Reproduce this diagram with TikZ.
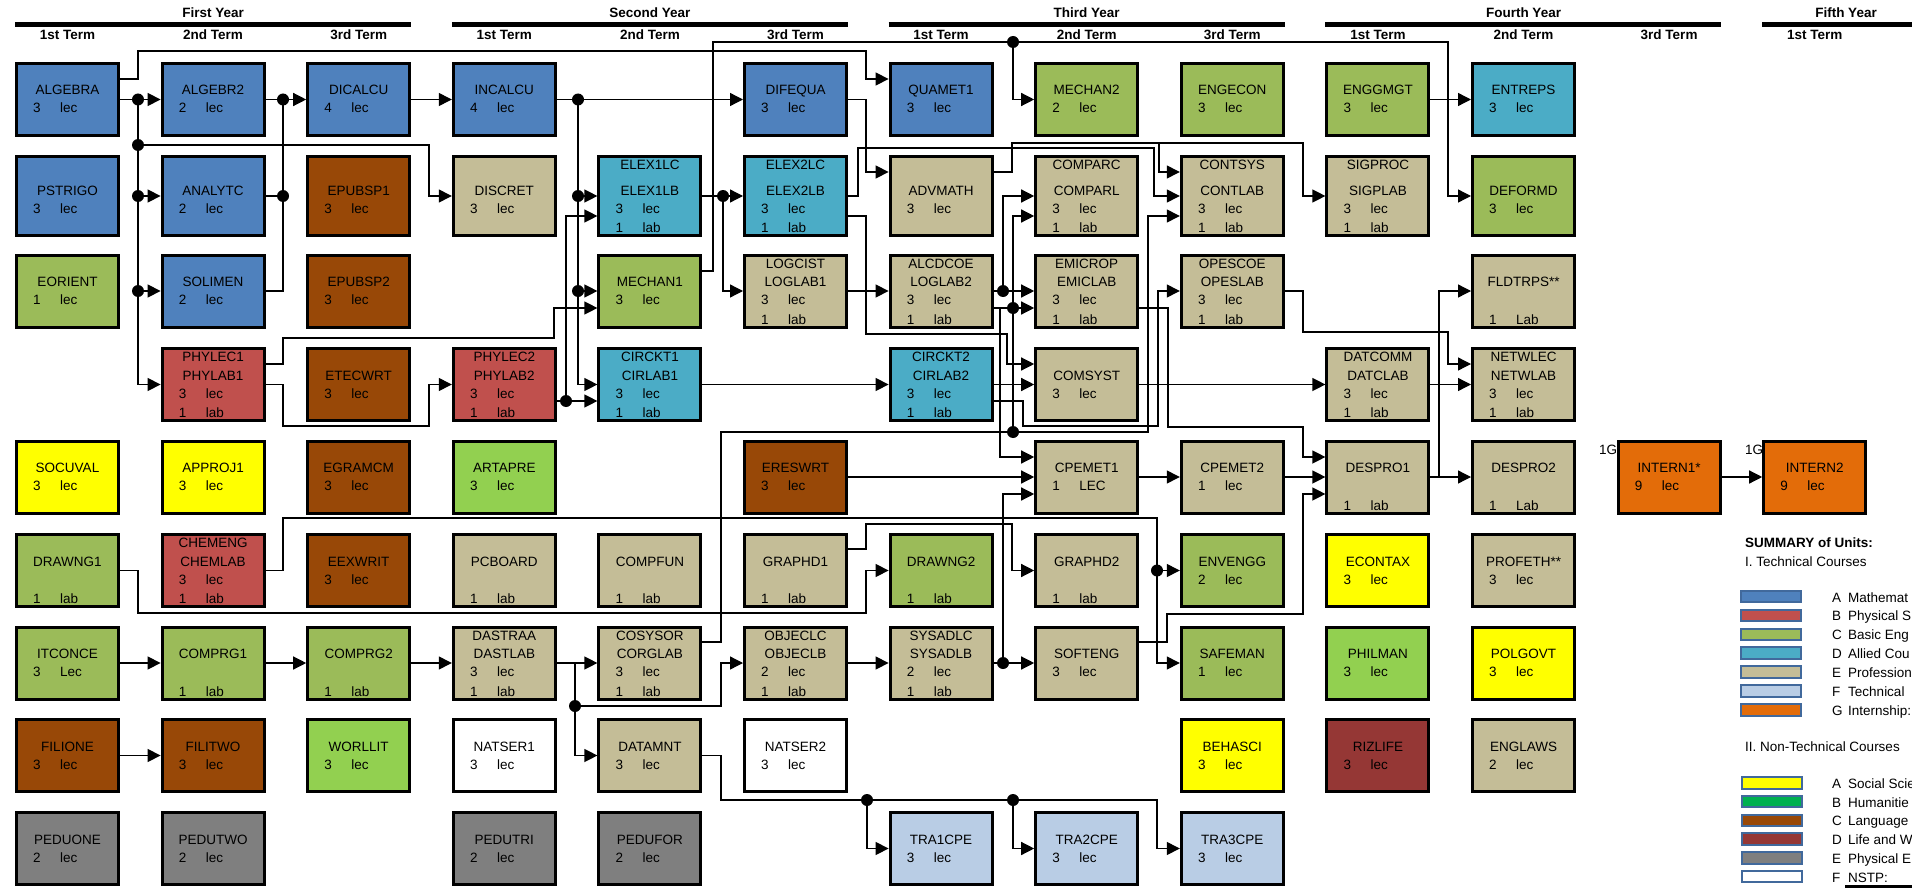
\documentclass[tikz,border=0pt]{standalone}
\usepackage{fontspec}
\setmainfont{Liberation Sans}
\usetikzlibrary{arrows.meta}

\definecolor{cMath}{HTML}{4F81BD}
\definecolor{cPhys}{HTML}{C0504D}
\definecolor{cBasic}{HTML}{9BBB59}
\definecolor{cAllied}{HTML}{4BACC6}
\definecolor{cProf}{HTML}{C4BD97}
\definecolor{cElec}{HTML}{B9CDE5}
\definecolor{cIntern}{HTML}{E36C09}
\definecolor{cSocial}{HTML}{FFFF00}
\definecolor{cHuman}{HTML}{92D050}
\definecolor{cHumanKey}{HTML}{00B050}
\definecolor{cLang}{HTML}{984807}
\definecolor{cLife}{HTML}{953735}
\definecolor{cPE}{HTML}{7F7F7F}
\definecolor{cKeyEdge}{HTML}{41699C}

\newcommand{\crsfont}{\fontsize{13.5}{16}\selectfont}
% course box: style, name, position, top line, title, units (two lines)
\newcommand{\course}[9]{%
  \node[crsbox, #1] (#2) at #3 {};
  \node[crstitle] (#2-t1) at ([yshift=-14.5pt]#2.north) {#4};
  \node[crstitle] (#2-t2) at ([yshift=42pt]#2.south) {#5};
  \node[crsunit] (#2-n3) at ([xshift=18pt,yshift=24pt]#2.south west) {#6};
  \node[crsunit] (#2-u3) at ([xshift=45pt,yshift=24pt]#2.south west) {#7};
  \node[crsunit] (#2-n4) at ([xshift=18pt,yshift=4.5pt]#2.south west) {#8};
  \node[crsunit] (#2-u4) at ([xshift=45pt,yshift=4.5pt]#2.south west) {#9};
}

\begin{document}
\begin{tikzpicture}[x=1pt, y=-1pt]
  % Define styles
  \tikzstyle{crsbox} = [draw=black, line width=3pt, minimum width=102pt, minimum height=72pt, inner sep=0pt]
  \tikzstyle{tall} = [minimum height=79pt]
  \tikzstyle{crstitle} = [anchor=base, inner sep=0pt, font=\crsfont]
  \tikzstyle{crsunit} = [anchor=base west, inner sep=0pt, font=\crsfont]
  \tikzstyle{yrhead} = [anchor=base, inner sep=0pt, font=\crsfont\bfseries]
  \tikzstyle{wire} = [draw, line width=1.3pt]
  \tikzstyle{arr} = [wire, -{Triangle[length=13pt,width=13pt]}]
  \tikzstyle{legsw} = [draw=cKeyEdge, line width=2pt, minimum width=60pt, minimum height=11.5pt, inner sep=0pt]
  \tikzstyle{legtxt} = [anchor=base west, inner sep=0pt, font=\crsfont]

  \fill[white] (0,0) rectangle (1912,888);
  \useasboundingbox (0,0) rectangle (1912,888);

  % Year and term headings
  \foreach \yr/\x/\a/\b [count=\i] in {First Year/213.1/15/411, Second Year/649.9/451.8/847.8, Third Year/1086.7/888.6/1284.6, Fourth Year/1523.5/1325.4/1721.4, Fifth Year/1846/1762/1912} {
    \node[yrhead] (year\i) at (\x,18) {\yr};
    \draw[line width=4.5pt] (\a,24.3) -- (\b,24.3);
  }
  \foreach \t/\x [count=\i] in {1st/67.5, 2nd/213.1, 3rd/358.7, 1st/504.3, 2nd/649.9, 3rd/795.5, 1st/941.1, 2nd/1086.7, 3rd/1232.3, 1st/1377.9, 2nd/1523.5, 3rd/1669.1, 1st/1814.7}
    \node[yrhead] (term\i) at (\x,40) {\t\ Term};

  % Place nodes
  \course{fill=cMath}{algebra}{(67.5,99.5)}{}{ALGEBRA}{3}{lec}{}{}
  \course{fill=cMath}{algebr2}{(213.1,99.5)}{}{ALGEBR2}{2}{lec}{}{}
  \course{fill=cMath}{dicalcu}{(358.7,99.5)}{}{DICALCU}{4}{lec}{}{}
  \course{fill=cMath}{incalcu}{(504.3,99.5)}{}{INCALCU}{4}{lec}{}{}
  \course{fill=cMath}{difequa}{(795.5,99.5)}{}{DIFEQUA}{3}{lec}{}{}
  \course{fill=cMath}{quamet1}{(941.1,99.5)}{}{QUAMET1}{3}{lec}{}{}
  \course{fill=cBasic}{mechan2}{(1086.7,99.5)}{}{MECHAN2}{2}{lec}{}{}
  \course{fill=cBasic}{engecon}{(1232.3,99.5)}{}{ENGECON}{3}{lec}{}{}
  \course{fill=cBasic}{enggmgt}{(1377.9,99.5)}{}{ENGGMGT}{3}{lec}{}{}
  \course{fill=cAllied}{entreps}{(1523.5,99.5)}{}{ENTREPS}{3}{lec}{}{}

  \course{fill=cMath, tall}{pstrigo}{(67.5,196)}{}{PSTRIGO}{3}{lec}{}{}
  \course{fill=cMath, tall}{analytc}{(213.1,196)}{}{ANALYTC}{2}{lec}{}{}
  \course{fill=cLang, tall}{epubsp1}{(358.7,196)}{}{EPUBSP1}{3}{lec}{}{}
  \course{fill=cProf, tall}{discret}{(504.3,196)}{}{DISCRET}{3}{lec}{}{}
  \course{fill=cAllied, tall}{elex1}{(649.9,196)}{ELEX1LC}{ELEX1LB}{3}{lec}{1}{lab}
  \course{fill=cAllied, tall}{elex2}{(795.5,196)}{ELEX2LC}{ELEX2LB}{3}{lec}{1}{lab}
  \course{fill=cProf, tall}{advmath}{(941.1,196)}{}{ADVMATH}{3}{lec}{}{}
  \course{fill=cProf, tall}{comparc}{(1086.7,196)}{COMPARC}{COMPARL}{3}{lec}{1}{lab}
  \course{fill=cProf, tall}{contsys}{(1232.3,196)}{CONTSYS}{CONTLAB}{3}{lec}{1}{lab}
  \course{fill=cProf, tall}{sigproc}{(1377.9,196)}{SIGPROC}{SIGPLAB}{3}{lec}{1}{lab}
  \course{fill=cBasic, tall}{deformd}{(1523.5,196)}{}{DEFORMD}{3}{lec}{}{}

  \course{fill=cBasic}{eorient}{(67.5,291)}{}{EORIENT}{1}{lec}{}{}
  \course{fill=cMath}{solimen}{(213.1,291)}{}{SOLIMEN}{2}{lec}{}{}
  \course{fill=cLang}{epubsp2}{(358.7,291)}{}{EPUBSP2}{3}{lec}{}{}
  \course{fill=cBasic}{mechan1}{(649.9,291)}{}{MECHAN1}{3}{lec}{}{}
  \course{fill=cProf}{logcist}{(795.5,291)}{LOGCIST}{LOGLAB1}{3}{lec}{1}{lab}
  \course{fill=cProf}{alcdcoe}{(941.1,291)}{ALCDCOE}{LOGLAB2}{3}{lec}{1}{lab}
  \course{fill=cProf}{emicrop}{(1086.7,291)}{EMICROP}{EMICLAB}{3}{lec}{1}{lab}
  \course{fill=cProf}{opescoe}{(1232.3,291)}{OPESCOE}{OPESLAB}{3}{lec}{1}{lab}
  \course{fill=cProf}{fldtrps}{(1523.5,291)}{}{FLDTRPS**}{}{}{1}{Lab}

  \course{fill=cPhys}{phylec1}{(213.1,384.5)}{PHYLEC1}{PHYLAB1}{3}{lec}{1}{lab}
  \course{fill=cLang}{etecwrt}{(358.7,384.5)}{}{ETECWRT}{3}{lec}{}{}
  \course{fill=cPhys}{phylec2}{(504.3,384.5)}{PHYLEC2}{PHYLAB2}{3}{lec}{1}{lab}
  \course{fill=cAllied}{circkt1}{(649.9,384.5)}{CIRCKT1}{CIRLAB1}{3}{lec}{1}{lab}
  \course{fill=cAllied}{circkt2}{(941.1,384.5)}{CIRCKT2}{CIRLAB2}{3}{lec}{1}{lab}
  \course{fill=cProf}{comsyst}{(1086.7,384.5)}{}{COMSYST}{3}{lec}{}{}
  \course{fill=cProf}{datcomm}{(1377.9,384.5)}{DATCOMM}{DATCLAB}{3}{lec}{1}{lab}
  \course{fill=cProf}{netwlec}{(1523.5,384.5)}{NETWLEC}{NETWLAB}{3}{lec}{1}{lab}

  \node[legtxt] (g1) at (1599,454) {1G};
  \node[legtxt] (g2) at (1745,454) {1G};
  \course{fill=cSocial}{socuval}{(67.5,477)}{}{SOCUVAL}{3}{lec}{}{}
  \course{fill=cSocial}{approj1}{(213.1,477)}{}{APPROJ1}{3}{lec}{}{}
  \course{fill=cLang}{egramcm}{(358.7,477)}{}{EGRAMCM}{3}{lec}{}{}
  \course{fill=cHuman}{artapre}{(504.3,477)}{}{ARTAPRE}{3}{lec}{}{}
  \course{fill=cLang}{ereswrt}{(795.5,477)}{}{ERESWRT}{3}{lec}{}{}
  \course{fill=cProf}{cpemet1}{(1086.7,477)}{}{CPEMET1}{1}{LEC}{}{}
  \course{fill=cProf}{cpemet2}{(1232.3,477)}{}{CPEMET2}{1}{lec}{}{}
  \course{fill=cProf}{despro1}{(1377.9,477)}{}{DESPRO1}{}{}{1}{lab}
  \course{fill=cProf}{despro2}{(1523.5,477)}{}{DESPRO2}{}{}{1}{Lab}
  \course{fill=cIntern}{intern1}{(1669.1,477)}{}{INTERN1*}{9}{lec}{}{}
  \course{fill=cIntern}{intern2}{(1814.7,477)}{}{INTERN2}{9}{lec}{}{}

  \course{fill=cBasic}{drawng1}{(67.5,570.5)}{}{DRAWNG1}{}{}{1}{lab}
  \course{fill=cPhys}{chemeng}{(213.1,570.5)}{CHEMENG}{CHEMLAB}{3}{lec}{1}{lab}
  \course{fill=cLang}{eexwrit}{(358.7,570.5)}{}{EEXWRIT}{3}{lec}{}{}
  \course{fill=cProf}{pcboard}{(504.3,570.5)}{}{PCBOARD}{}{}{1}{lab}
  \course{fill=cProf}{compfun}{(649.9,570.5)}{}{COMPFUN}{}{}{1}{lab}
  \course{fill=cProf}{graphd1}{(795.5,570.5)}{}{GRAPHD1}{}{}{1}{lab}
  \course{fill=cBasic}{drawng2}{(941.1,570.5)}{}{DRAWNG2}{}{}{1}{lab}
  \course{fill=cProf}{graphd2}{(1086.7,570.5)}{}{GRAPHD2}{}{}{1}{lab}
  \course{fill=cBasic}{envengg}{(1232.3,570.5)}{}{ENVENGG}{2}{lec}{}{}
  \course{fill=cSocial}{econtax}{(1377.9,570.5)}{}{ECONTAX}{3}{lec}{}{}
  \course{fill=cProf}{profeth}{(1523.5,570.5)}{}{PROFETH**}{3}{lec}{}{}

  \course{fill=cBasic}{itconce}{(67.5,663)}{}{ITCONCE}{3}{Lec}{}{}
  \course{fill=cBasic}{comprg1}{(213.1,663)}{}{COMPRG1}{}{}{1}{lab}
  \course{fill=cBasic}{comprg2}{(358.7,663)}{}{COMPRG2}{}{}{1}{lab}
  \course{fill=cProf}{dastraa}{(504.3,663)}{DASTRAA}{DASTLAB}{3}{lec}{1}{lab}
  \course{fill=cProf}{cosysor}{(649.9,663)}{COSYSOR}{CORGLAB}{3}{lec}{1}{lab}
  \course{fill=cProf}{objeclc}{(795.5,663)}{OBJECLC}{OBJECLB}{2}{lec}{1}{lab}
  \course{fill=cProf}{sysadlc}{(941.1,663)}{SYSADLC}{SYSADLB}{2}{lec}{1}{lab}
  \course{fill=cProf}{softeng}{(1086.7,663)}{}{SOFTENG}{3}{lec}{}{}
  \course{fill=cBasic}{safeman}{(1232.3,663)}{}{SAFEMAN}{1}{lec}{}{}
  \course{fill=cHuman}{philman}{(1377.9,663)}{}{PHILMAN}{3}{lec}{}{}
  \course{fill=cSocial}{polgovt}{(1523.5,663)}{}{POLGOVT}{3}{lec}{}{}

  \course{fill=cLang}{filione}{(67.5,755.5)}{}{FILIONE}{3}{lec}{}{}
  \course{fill=cLang}{filitwo}{(213.1,755.5)}{}{FILITWO}{3}{lec}{}{}
  \course{fill=cHuman}{worllit}{(358.7,755.5)}{}{WORLLIT}{3}{lec}{}{}
  \course{fill=white}{natser1}{(504.3,755.5)}{}{NATSER1}{3}{lec}{}{}
  \course{fill=cProf}{datamnt}{(649.9,755.5)}{}{DATAMNT}{3}{lec}{}{}
  \course{fill=white}{natser2}{(795.5,755.5)}{}{NATSER2}{3}{lec}{}{}
  \course{fill=cSocial}{behasci}{(1232.3,755.5)}{}{BEHASCI}{3}{lec}{}{}
  \course{fill=cLife}{rizlife}{(1377.9,755.5)}{}{RIZLIFE}{3}{lec}{}{}
  \course{fill=cProf}{englaws}{(1523.5,755.5)}{}{ENGLAWS}{2}{lec}{}{}

  \course{fill=cPE}{peduone}{(67.5,848.5)}{}{PEDUONE}{2}{lec}{}{}
  \course{fill=cPE}{pedutwo}{(213.1,848.5)}{}{PEDUTWO}{2}{lec}{}{}
  \course{fill=cPE}{pedutri}{(504.3,848.5)}{}{PEDUTRI}{2}{lec}{}{}
  \course{fill=cPE}{pedufor}{(649.9,848.5)}{}{PEDUFOR}{2}{lec}{}{}
  \course{fill=cElec}{tra1cpe}{(941.1,848.5)}{}{TRA1CPE}{3}{lec}{}{}
  \course{fill=cElec}{tra2cpe}{(1086.7,848.5)}{}{TRA2CPE}{3}{lec}{}{}
  \course{fill=cElec}{tra3cpe}{(1232.3,848.5)}{}{TRA3CPE}{3}{lec}{}{}

  % Junctions
  \coordinate (jA0) at (138,99.5);
  \coordinate (jA1) at (138,145);
  \coordinate (jA2) at (138,196);
  \coordinate (jA3) at (138,291);
  \coordinate (jB0) at (283,99.5);
  \coordinate (jB1) at (283,196);
  \coordinate (jD0) at (578,99.5);
  \coordinate (jD1) at (578,196);
  \coordinate (jD2) at (578,291);
  \coordinate (jG) at (566,401);
  \coordinate (jH) at (723,196);
  \coordinate (jI) at (1013,42);
  \coordinate (jM) at (1159,143);
  \coordinate (jO) at (1003,291);
  \coordinate (jQ0) at (1013,432);
  \coordinate (jQ1) at (1013,308);
  \coordinate (jY) at (1439,477);
  \coordinate (jAC) at (1003,663);
  \coordinate (jAE) at (1157,570.5);
  \coordinate (jAJt) at (575,663);
  \coordinate (jAJ) at (575,706);
  \coordinate (jAL1) at (867,800);
  \coordinate (jAL2) at (1013,800);

  % Draw edges
  \draw[arr] (algebra) -- (algebr2);
  \draw[arr] (jA0) |- (phylec1);
  \draw[arr] (jA2) -- (analytc);
  \draw[arr] (jA3) -- (solimen);
  \draw[arr] (jA1) -| (429,196) -- (discret);
  \draw[arr] ([yshift=20.5pt]algebra.east) -| (138,51) -| (866,79) -- ([yshift=20.5pt]quamet1.west);
  \draw[arr] (algebr2) -- (dicalcu);
  \draw[wire] (analytc) -- (jB1);
  \draw[wire] (solimen) -| (jB1) -- (jB0);
  \draw[arr] (dicalcu) -- (incalcu);
  \draw[arr] (incalcu) -- (difequa);
  \draw[arr] (jD0) |- (circkt1);
  \draw[arr] (jD1) -- (elex1);
  \draw[arr] (jD2) -- (mechan1);
  \draw[arr] ([yshift=20.5pt]phylec1.east) -| (283,338) -| (554,308) -- ([yshift=-17pt]mechan1.west);
  \draw[arr] (phylec1) -| (283,426) -| (429,384.5) -- (phylec2);
  \draw[arr] ([yshift=-16.5pt]phylec2.east) -- (jG) -- ([yshift=-16.5pt]circkt1.west);
  \draw[arr] (jG) |- ([yshift=-20pt]elex1.west);
  \draw[arr] (circkt1) -- (circkt2);
  \draw[arr] (elex1) -- (elex2);
  \draw[arr] (jH) |- (logcist);
  \draw[arr] ([yshift=20pt]mechan1.east) -| (713,42) -- (jI) |- (mechan2);
  \draw[arr] (jI) -| (1448,196) -- (deformd);
  \draw[arr] (difequa) -| (866,172) -- ([yshift=24pt]advmath.west);
  \draw[arr] (elex2) -| (858,148) -| (1154,196) -- (contsys);
  \draw[arr] ([yshift=-20pt]elex2.east) -| (866,334) -| (1007,364) -- ([yshift=20.5pt]comsyst.west);
  \draw[arr] ([yshift=24pt]advmath.east) -| (1012,143) -| (1303,196) -- (sigproc);
  \draw[arr] (jM) |- ([yshift=24pt]contsys.west);
  \draw[arr] (logcist) -- (alcdcoe);
  \draw[arr] (alcdcoe) -- (emicrop);
  \draw[arr] (jO) |- (comparc);
  \draw[wire] ([yshift=-17pt]alcdcoe.east) -- (jQ1);
  \draw[arr] (1000,308) -- (1000,457) -- ([yshift=20pt]cpemet1.west);
  \draw[arr] ([yshift=21pt]cosysor.east) -| (721,432) -- (jQ0) -| (1148,216) -- ([yshift=-20pt]contsys.west);
  \draw[arr] (jQ0) |- ([yshift=-20pt]comparc.west);
  \draw[arr] (jQ1) -- ([yshift=-17pt]emicrop.west);
  \draw[arr] (circkt2) -- (comsyst);
  \draw[arr] ([yshift=-16.5pt]circkt2.east) -| (1023,426) -| (1158,291) -- (opescoe);
  \draw[arr] ([yshift=-17pt]emicrop.east) -| (1168,427) -| (1303,457) -- ([yshift=20pt]despro1.west);
  \draw[arr] (comsyst) -- (datcomm);
  \draw[arr] (datcomm) -- (netwlec);
  \draw[arr] (opescoe) -| (1303,332) -| (1448,364) -- ([yshift=20.5pt]netwlec.west);
  \draw[arr] (despro1) -- (despro2);
  \draw[arr] (jY) |- (fldtrps);
  \draw[arr] (enggmgt) -- (entreps);
  \draw[arr] (ereswrt) -- (cpemet1);
  \draw[arr] (cpemet1) -- (cpemet2);
  \draw[arr] (cpemet2) -- (despro1);
  \draw[arr] (sysadlc) -- (softeng);
  \draw[arr] (jAC) |- ([yshift=-17pt]cpemet1.west);
  \draw[arr] ([yshift=21pt]softeng.east) -| (1167,614) -| (1303,494) -- ([yshift=-17pt]despro1.west);
  \draw[wire] (chemeng) -| (283,518) -| (jAE);
  \draw[arr] (jAE) -- (envengg);
  \draw[arr] (jAE) |- (safeman);
  \draw[arr] ([yshift=21.5pt]graphd1.east) -| (866,524) -| (1012,570.5) -- (graphd2);
  \draw[arr] (drawng1) -| (138,613) -| (866,570.5) -- (drawng2);
  \draw[arr] (itconce) -- (comprg1);
  \draw[arr] (comprg1) -- (comprg2);
  \draw[arr] (comprg2) -- (dastraa);
  \draw[arr] (dastraa) -- (cosysor);
  \draw[wire] (jAJt) -- (jAJ);
  \draw[arr] (jAJ) -| (721,663) -- (objeclc);
  \draw[arr] (jAJ) |- (datamnt);
  \draw[arr] (objeclc) -- (sysadlc);
  \draw[wire] (datamnt) -| (721,800) -- (jAL1) -- (jAL2);
  \draw[arr] (jAL1) |- (tra1cpe);
  \draw[arr] (jAL2) |- (tra2cpe);
  \draw[arr] (jAL2) -| (1157,848.5) -- (tra3cpe);
  \draw[arr] (filione) -- (filitwo);
  \draw[arr] (intern1) -- (intern2);

  \foreach \j in {jA0,jA1,jA2,jA3,jB0,jB1,jD0,jD1,jD2,jG,jH,jI,jO,jQ0,jQ1,jAC,jAE,jAJ,jAL1,jAL2}
    \fill (\j) circle (6pt);

  % Summary of units
  \node[legtxt, font=\crsfont\bfseries] (sumhead) at (1745,547) {SUMMARY of Units:};
  \node[legtxt] (techhead) at (1745,566) {I. Technical Courses};
  \foreach \clr/\ltr/\txt [count=\i] in {cMath/A/Mathemat, cPhys/B/Physical S, cBasic/C/Basic Eng, cAllied/D/Allied Cou, cProf/E/Profession, cElec/F/Technical, cIntern/G/Internship:} {
    \node[legsw, fill=\clr] (tsw\i) at (1771,{596.5+18.9*(\i-1)}) {};
    \node[legtxt] (tltr\i) at (1832,{602+18.9*(\i-1)}) {\ltr};
    \node[legtxt] (ttxt\i) at (1848,{602+18.9*(\i-1)}) {\txt};
  }
  \node[legtxt] (nonhead) at (1745,751) {II. Non-Technical Courses};
  \foreach \clr/\ltr/\txt [count=\i] in {cSocial/A/Social Scie, cHumanKey/B/Humanitie, cLang/C/Language, cLife/D/Life and W, cPE/E/Physical E, white/F/NSTP:} {
    \node[legsw, fill=\clr] (nsw\i) at (1772,{783+18.7*(\i-1)}) {};
    \node[legtxt] (nltr\i) at (1832,{788.5+18.7*(\i-1)}) {\ltr};
    \node[legtxt] (ntxt\i) at (1848,{788.5+18.7*(\i-1)}) {\txt};
  }
  \draw[line width=3pt] (1845,886) -- (1912,886);
\end{tikzpicture}
\end{document}
